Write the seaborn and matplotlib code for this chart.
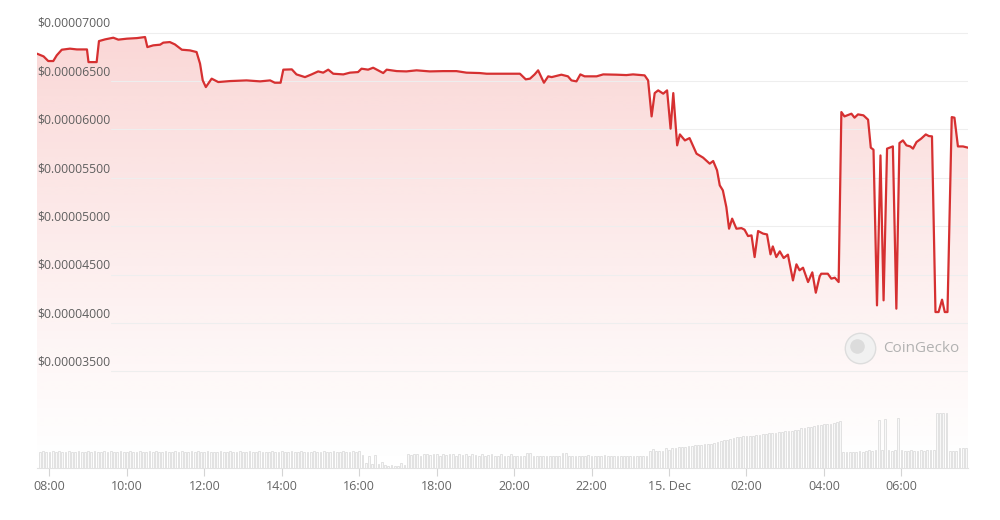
import numpy as np
import pandas as pd
import matplotlib.pyplot as plt
import seaborn as sns
from matplotlib.colors import to_rgb

# price line: hours counted from 14 Dec 00:00 (24+ is 15 Dec), price in 1e-8 USD
hours = [7.68, 7.85, 7.97, 8.10, 8.19, 8.32, 8.53, 8.71, 8.97, 9.01, 9.22, 9.28,
         9.44, 9.65, 9.78, 10.00, 10.26, 10.47, 10.53, 10.68, 10.86, 10.94, 11.11, 11.24,
         11.42, 11.63, 11.80, 11.89, 11.96, 12.04, 12.19, 12.36, 12.66, 13.09, 13.44, 13.70,
         13.82, 13.97, 14.04, 14.26, 14.38, 14.60, 14.77, 14.94, 15.07, 15.20, 15.33, 15.59,
         15.76, 15.97, 16.06, 16.23, 16.36, 16.49, 16.62, 16.71, 16.97, 17.22, 17.48, 17.82,
         18.17, 18.51, 18.77, 19.11, 19.29, 19.72, 20.15, 20.30, 20.41, 20.53, 20.62, 20.77,
         20.88, 20.97, 21.22, 21.39, 21.48, 21.61, 21.71, 21.82, 22.13, 22.30, 22.64, 22.90,
         23.07, 23.37, 23.46, 23.55, 23.63, 23.72, 23.85, 23.95, 24.04, 24.11, 24.21, 24.28,
         24.41, 24.53, 24.71, 24.88, 25.05, 25.14, 25.24, 25.31, 25.39, 25.48, 25.55, 25.63,
         25.74, 25.87, 25.95, 26.04, 26.13, 26.21, 26.30, 26.43, 26.53, 26.62, 26.68, 26.77,
         26.86, 26.96, 27.07, 27.20, 27.29, 27.37, 27.46, 27.59, 27.70, 27.79, 27.89, 27.93,
         28.10, 28.19, 28.28, 28.38, 28.45, 28.53, 28.71, 28.79, 28.88, 29.02, 29.14, 29.21,
         29.28, 29.37, 29.46, 29.54, 29.63, 29.78, 29.87, 29.95, 30.04, 30.13, 30.23, 30.30,
         30.39, 30.51, 30.63, 30.71, 30.79, 30.88, 30.96, 31.05, 31.12, 31.19, 31.30, 31.37,
         31.46, 31.59, 31.72]
price = [6783, 6755, 6707, 6707, 6766, 6824, 6835, 6827, 6827, 6696, 6696, 6913,
         6931, 6948, 6928, 6938, 6944, 6955, 6851, 6869, 6876, 6897, 6903, 6879,
         6824, 6817, 6800, 6680, 6507, 6438, 6525, 6490, 6500, 6507, 6497, 6507,
         6483, 6483, 6618, 6621, 6569, 6541, 6569, 6600, 6587, 6618, 6576, 6569,
         6587, 6593, 6628, 6618, 6638, 6611, 6583, 6618, 6603, 6600, 6611, 6600,
         6603, 6603, 6587, 6583, 6576, 6576, 6576, 6518, 6525, 6569, 6611, 6483,
         6549, 6541, 6566, 6549, 6507, 6497, 6569, 6549, 6549, 6569, 6566, 6562,
         6569, 6559, 6507, 6135, 6376, 6404, 6370, 6404, 6008, 6376, 5836, 5949,
         5887, 5911, 5750, 5709, 5647, 5674, 5578, 5423, 5371, 5198, 4975, 5079,
         4975, 4981, 4965, 4899, 4906, 4682, 4951, 4924, 4916, 4710, 4792, 4682,
         4741, 4672, 4707, 4441, 4607, 4545, 4572, 4424, 4524, 4314, 4483, 4510,
         4510, 4459, 4469, 4424, 6180, 6135, 6163, 6122, 6156, 6146, 6101, 5812,
         5791, 4183, 5732, 4235, 5802, 5825, 4149, 5860, 5887, 5836, 5825, 5802,
         5870, 5905, 5949, 5932, 5929, 4114, 4114, 4242, 4114, 4114, 6128, 6122,
         5825, 5825, 5812]

# 5-minute volume bars from 07:45, one row per hour (relative heights)
volume = [16, 17, 16, 16, 17, 16, 17, 16, 16, 17, 16, 16,
          17, 16, 16, 17, 16, 17, 16, 16, 17, 16, 17, 16,
          16, 17, 16, 16, 17, 16, 16, 17, 16, 16, 17, 16,
          17, 16, 16, 17, 16, 16, 17, 16, 17, 16, 16, 17,
          16, 17, 16, 16, 17, 16, 16, 16, 17, 16, 16, 17,
          16, 16, 17, 16, 16, 17, 16, 16, 17, 16, 16, 16,
          17, 16, 16, 17, 16, 16, 17, 16, 16, 17, 16, 16,
          16, 17, 16, 16, 17, 16, 16, 17, 16, 16, 17, 16,
          16, 17, 16, 17, 13, 5, 12, 4, 13, 4, 6, 3,
          2, 3, 2, 2, 5, 3, 14, 13, 14, 14, 12, 14,
          14, 13, 14, 14, 12, 14, 13, 14, 14, 12, 14, 13,
          14, 12, 14, 13, 12, 14, 12, 13, 14, 12, 12, 14,
          12, 12, 14, 12, 12, 12, 12, 15, 15, 12, 12, 12,
          12, 12, 12, 12, 12, 12, 15, 15, 12, 12, 12, 12,
          12, 12, 13, 12, 12, 12, 12, 13, 12, 12, 12, 12,
          12, 12, 12, 12, 12, 12, 12, 12, 12, 17, 19, 17,
          17, 17, 20, 18, 20, 20, 21, 21, 21, 22, 22, 23,
          23, 23, 24, 24, 24, 25, 26, 27, 28, 28, 29, 30,
          31, 31, 32, 32, 32, 32, 33, 33, 34, 34, 35, 35,
          35, 36, 36, 37, 37, 37, 38, 38, 40, 40, 41, 41,
          42, 43, 43, 44, 44, 44, 45, 46, 47, 16, 16, 16,
          16, 16, 17, 16, 17, 18, 17, 18, 48, 18, 49, 18,
          17, 18, 50, 18, 17, 17, 18, 17, 17, 18, 17, 18,
          18, 18, 55, 55, 55, 55, 17, 17, 17, 20, 20, 20]

ytick_vals = [3500, 4000, 4500, 5000, 5500, 6000, 6500, 7000]
xtick_hours = [8, 10, 12, 14, 16, 18, 20, 22, 24, 26, 28, 30]
xtick_labels = ["08:00", "10:00", "12:00", "14:00", "16:00", "18:00", "20:00",
                "22:00", "15. Dec", "02:00", "04:00", "06:00"]

red = "#d63031"
x_lo, x_hi = 7.68, 31.72
y_lo, y_hi = 2503, 7004

sns.set_style("white")
plt.rcParams["font.family"] = ["Open Sans", "DejaVu Sans"]

df = pd.DataFrame({"hour": hours, "price": price})
vol_df = pd.DataFrame({"hour": 7.75 + np.arange(len(volume)) / 12, "volume": volume})

fig = plt.figure(figsize=(10, 5.2), dpi=100)
ax = fig.add_axes([0.037, 0.1, 0.931, 0.8379])
axv = fig.add_axes([0.037, 0.1, 0.931, 0.17])
axv.patch.set_visible(False)

# gradient fill under the line
rgba = np.zeros((256, 1, 4))
rgba[..., :3] = to_rgb("#e8403c")
rgba[:, 0, 3] = np.linspace(0.0, 0.21, 256) ** 1.1 / 0.21 ** 0.1
im = ax.imshow(rgba, extent=[x_lo, x_hi, y_lo, y_hi], origin="lower",
               aspect="auto", zorder=1, interpolation="bilinear")
poly = ax.fill_between(df["hour"], df["price"], y_lo, color="none")
im.set_clip_path(poly.get_paths()[0], transform=ax.transData)

for v in ytick_vals:
    ax.axhline(v, xmin=0.08, color="#eeeeee", lw=0.8, zorder=2)
    ax.annotate(f"${v * 1e-8:.8f}", xy=(0, v), xycoords=("axes fraction", "data"),
                xytext=(0, 2), textcoords="offset points", ha="left", va="bottom",
                fontsize=8.8, color="#5f5f5f", zorder=4)

sns.lineplot(data=df, x="hour", y="price", color=red, linewidth=1.6,
             estimator=None, sort=False, ax=ax, zorder=3)

ax.set_xlim(x_lo, x_hi)
ax.set_ylim(y_lo, y_hi)
ax.set_yticks([])
ax.set_xticks(xtick_hours, xtick_labels)
ax.tick_params(axis="x", length=6, width=0.8, color="#d4d4d4", labelcolor="#666666",
               labelsize=9, pad=3, bottom=True)
ax.set_xlabel("")
ax.set_ylabel("")
sns.despine(ax=ax, left=True)
ax.spines["bottom"].set_color("#e2e2e2")
ax.spines["bottom"].set_linewidth(0.8)

# watermark
ax.scatter([0.884], [0.275], s=480, color="#f1f1f1", edgecolor="#dddddd",
           linewidth=1, transform=ax.transAxes, zorder=4)
ax.scatter([0.881], [0.28], s=90, color="#dcdcdc", transform=ax.transAxes, zorder=4)
ax.text(0.9085, 0.275, "CoinGecko", transform=ax.transAxes, va="center", ha="left",
        fontsize=11, color="#b2b2b2", zorder=4)

# volume bars
sns.barplot(data=vol_df, x="hour", y="volume", native_scale=True, width=0.55,
            color="#f8f8f8", edgecolor="#d8d8d8", linewidth=0.5, errorbar=None,
            saturation=1, ax=axv)
axv.set_xlim(x_lo, x_hi)
axv.set_ylim(0, 88)
axv.axis("off")

fig.savefig("out.png", dpi=100)
